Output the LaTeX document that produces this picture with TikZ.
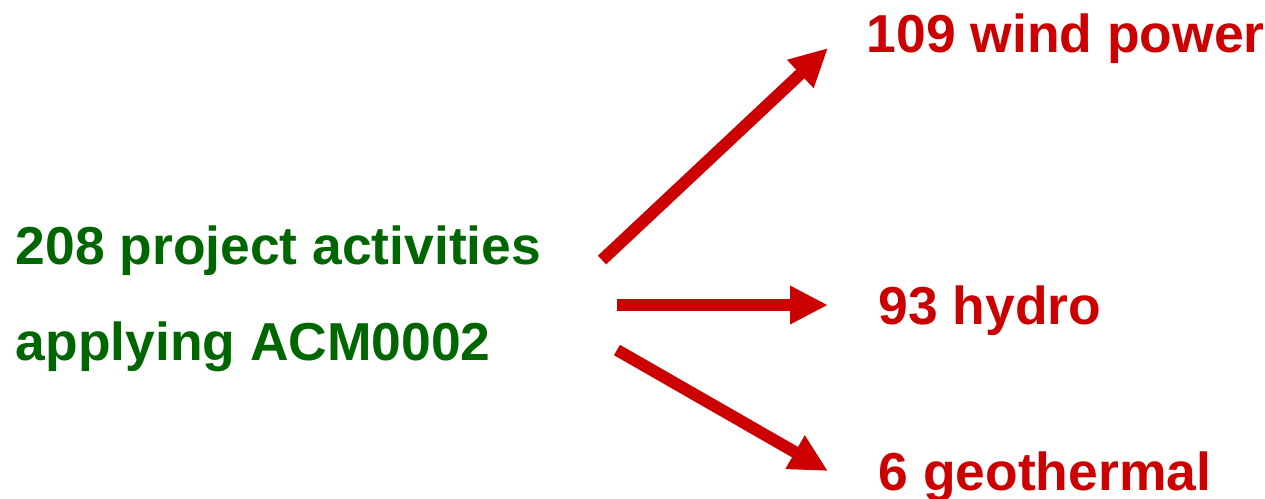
\documentclass[tikz,border=0pt]{standalone}
\usepackage{fontspec}
\setmainfont{Liberation Sans}
\usetikzlibrary{arrows.meta}
\definecolor{acmgreen}{RGB}{0,102,0}
\definecolor{acmred}{RGB}{204,0,0}
\tikzset{
	source/.style={text=acmgreen, inner sep=0pt, anchor=base west},
	target/.style={text=acmred, inner sep=0pt, anchor=base west},
	split/.style={draw=acmred, line width=0.12cm, -{Triangle[length=0.38cm, width=0.36cm]}}
}
\begin{document}
\begin{tikzpicture}[font=\fontsize{15.2}{18}\selectfont\bfseries]
		\useasboundingbox (0, 0) rectangle (12.65, -4.98);
		\node[source] (total) at (0.15, -2.64) {208 project activities};
		\node[source] (method) at (0.15, -3.60) {applying ACM0002};
		\node[target] (wind) at (8.66, -0.52) {109 wind power};
		\node[target] (hydro) at (8.78, -3.24) {93 hydro};
		\node[target] (geo) at (8.78, -4.90) {6 geothermal};

		\coordinate (tailW) at (6.02, -2.60);
		\coordinate (headW) at (8.28, -0.48);
		\coordinate (tailH) at (6.17, -3.05);
		\coordinate (headH) at (8.28, -3.05);
		\coordinate (tailG) at (6.17, -3.50);
		\coordinate (headG) at (8.28, -4.71);

		\path (tailW) edge[split] (headW)
		(tailH) edge[split] (headH)
		(tailG) edge[split] (headG);
	\end{tikzpicture}
\end{document}
